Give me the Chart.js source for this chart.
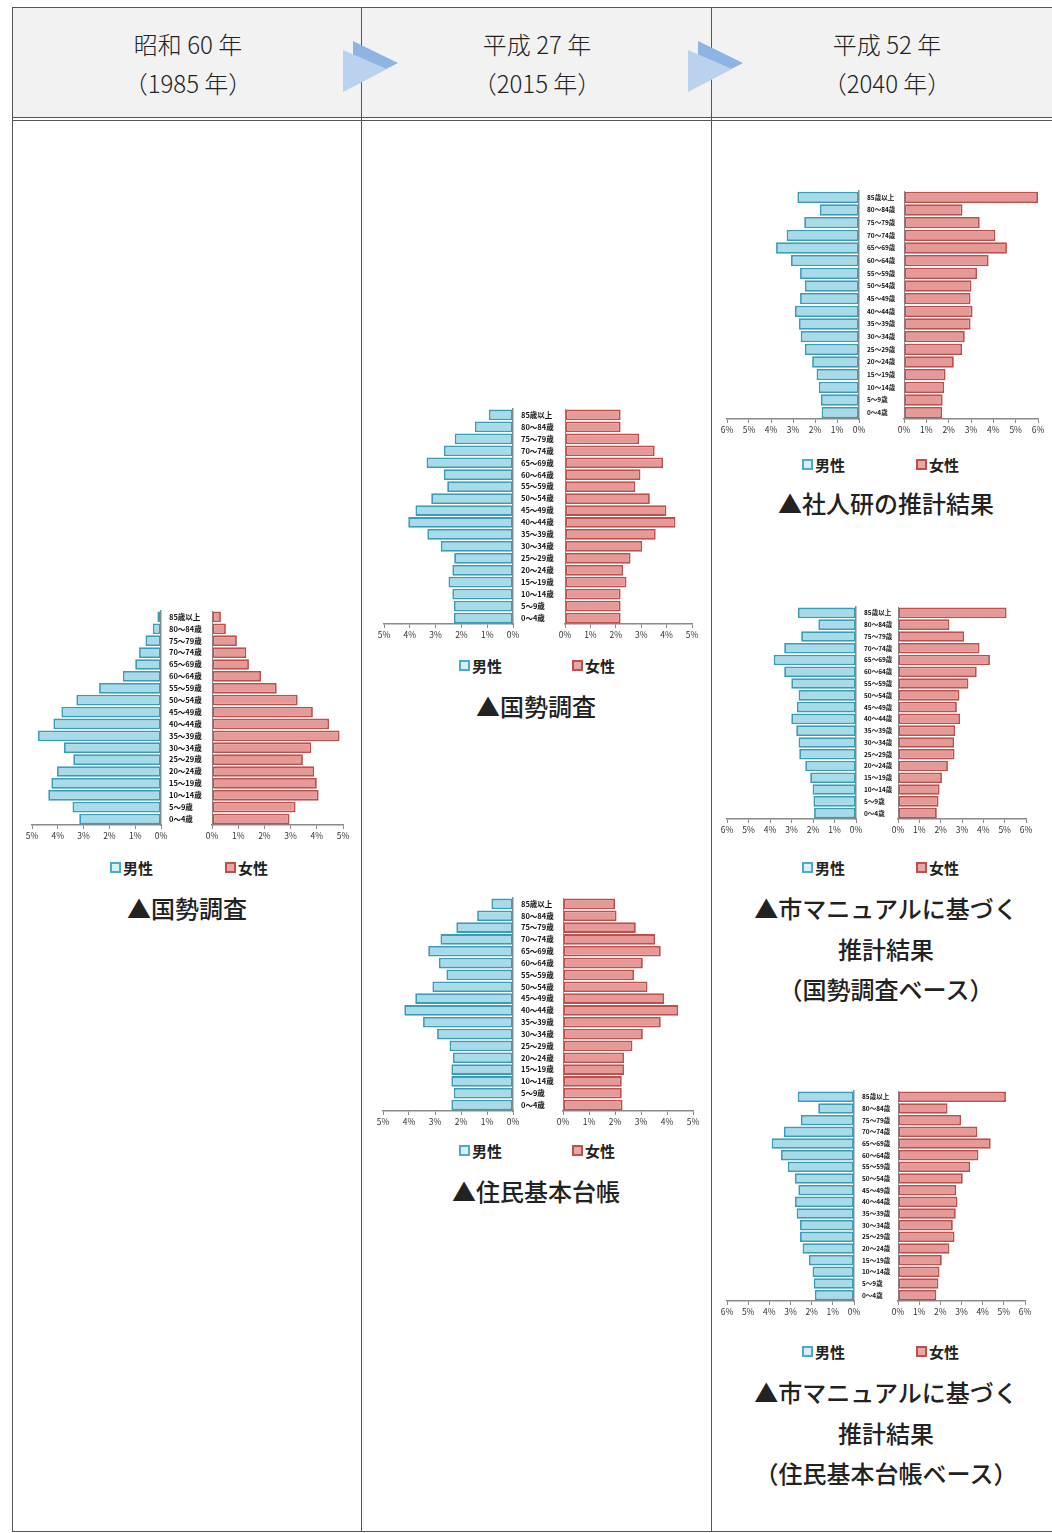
<!DOCTYPE html>
<html lang="ja">
<head>
<meta charset="UTF-8">
<title>人口ピラミッドの推移</title>
<script src="https://cdn.jsdelivr.net/npm/chart.js"></script>
<style>
  body { margin: 0; background: #fff; font-family: "Noto Sans CJK JP", sans-serif; color: #222; }
  #page { position: relative; width: 1052px; height: 1533px; overflow: hidden; }
  .line { position: absolute; background: #555; }
  .head { position: absolute; top: 8px; left: 13px; width: 1039px; height: 109px; background: #f2f2f2; }
  .headtext { position: absolute; width: 350px; text-align: center; font-size: 24px; line-height: 39px; font-weight: 300; }
  .cap { position: absolute; width: 350px; text-align: center; font-size: 24px; line-height: 40.5px; font-weight: 500; }
  .legend { position: absolute; font-size: 15px; font-weight: bold; line-height: 18px; white-space: nowrap; }
  .legend i { display: inline-block; width: 7px; height: 7px; border: 2px solid; margin-right: 2px; vertical-align: 1px; }
  canvas { position: absolute; }
  svg { position: absolute; }
</style>
</head>
<body>
<div id="page"></div>
<script>
// age groups, top row first
const ageLabels = ['85歳以上', '80～84歳', '75～79歳', '70～74歳', '65～69歳', '60～64歳',
  '55～59歳', '50～54歳', '45～49歳', '40～44歳', '35～39歳', '30～34歳',
  '25～29歳', '20～24歳', '15～19歳', '10～14歳', '5～9歳', '0～4歳']

// 昭和60年 国勢調査 (%)
const male1985 = [0.14, 0.32, 0.6, 0.85, 1.0, 1.48, 2.4, 3.28, 3.86, 4.17, 4.77, 3.76, 3.4, 4.03, 4.25, 4.37, 3.43, 3.17]
const female1985 = [0.34, 0.53, 0.95, 1.31, 1.41, 1.87, 2.47, 3.27, 3.85, 4.47, 4.87, 3.79, 3.47, 3.9, 4.0, 4.07, 3.19, 2.96]

// 平成27年 国勢調査
const male2015Census = [0.94, 1.48, 2.26, 2.68, 3.35, 2.68, 2.55, 3.17, 3.78, 4.06, 3.32, 2.8, 2.28, 2.35, 2.5, 2.35, 2.29, 2.29]
const female2015Census = [2.19, 2.19, 2.92, 3.53, 3.86, 2.97, 2.77, 3.34, 3.99, 4.35, 3.57, 3.04, 2.58, 2.29, 2.42, 2.19, 2.19, 2.19]

// 平成27年 住民基本台帳
const male2015Register = [0.83, 1.38, 2.18, 2.79, 3.26, 2.85, 2.56, 3.1, 3.76, 4.18, 3.46, 2.92, 2.44, 2.31, 2.37, 2.37, 2.28, 2.37]
const female2015Register = [2.0, 2.06, 2.8, 3.54, 3.76, 3.07, 2.73, 3.25, 3.89, 4.43, 3.76, 3.07, 2.67, 2.35, 2.35, 2.26, 2.26, 2.29]

// 平成52年 社人研の推計結果
const male2040Ipss = [2.8, 1.78, 2.49, 3.29, 3.77, 3.09, 2.68, 2.46, 2.68, 2.91, 2.73, 2.65, 2.46, 2.13, 1.93, 1.83, 1.73, 1.7]
const female2040Ipss = [6.0, 2.62, 3.39, 4.09, 4.61, 3.79, 3.27, 3.02, 2.98, 3.07, 2.98, 2.72, 2.6, 2.23, 1.86, 1.8, 1.73, 1.71]

// 平成52年 市マニュアル（国勢調査ベース）
const male2040CityCensus = [2.7, 1.75, 2.55, 3.34, 3.83, 3.34, 3.01, 2.67, 2.75, 3.01, 2.78, 2.67, 2.64, 2.36, 2.13, 2.02, 1.98, 1.95]
const female2040CityCensus = [5.09, 2.41, 3.1, 3.82, 4.31, 3.69, 3.3, 2.88, 2.76, 2.91, 2.68, 2.63, 2.65, 2.34, 2.06, 1.95, 1.9, 1.82]

// 平成52年 市マニュアル（住民基本台帳ベース）
const male2040CityRegister = [2.66, 1.69, 2.51, 3.31, 3.89, 3.45, 3.13, 2.79, 2.63, 2.79, 2.71, 2.55, 2.55, 2.43, 2.13, 1.96, 1.9, 1.85]
const female2040CityRegister = [5.1, 2.34, 2.98, 3.75, 4.38, 3.8, 3.41, 3.06, 2.75, 2.81, 2.73, 2.59, 2.67, 2.43, 2.07, 1.96, 1.91, 1.81]

const eraLabels = ['昭和 60 年', '平成 27 年', '平成 52 年']
const yearLabels = ['（1985 年）', '（2015 年）', '（2040 年）']
const seriesNames = ['男性', '女性']

const maleFill = '#a8dbe9'
const maleLine = '#3a9db7'
const femaleFill = '#e69a98'
const femaleLine = '#bf4f4c'
const axisColor = '#8a8a8a'
const font = '"Noto Sans CJK JP", sans-serif'

const page = document.getElementById('page')

function el(tag, cls, css, html) {
  const e = document.createElement(tag)
  if (cls) e.className = cls
  Object.assign(e.style, css)
  if (html != null) e.innerHTML = html
  page.appendChild(e)
  return e
}

// table frame
const colX = [12, 361, 711]
el('div', 'head', {})
el('div', 'line', { left: '12px', top: '7px', width: '1040px', height: '1px' })
el('div', 'line', { left: '12px', top: '117px', width: '1040px', height: '1px' })
el('div', 'line', { left: '12px', top: '120px', width: '1040px', height: '1px' })
el('div', 'line', { left: '12px', top: '1531px', width: '1040px', height: '1px' })
colX.forEach(x => el('div', 'line', { left: x + 'px', top: '7px', width: '1px', height: '1525px' }))

eraLabels.forEach((t, i) => {
  const left = colX[i] + 1 + 'px'
  el('div', 'headtext', { left, top: '24px' }, t)
  el('div', 'headtext', { left, top: '63px' }, yearLabels[i])
})

// arrows between the header cells
;[343, 688].forEach(x => {
  const s = el('svg', null, {})
  s.outerHTML = `<svg style="position:absolute;left:${x}px;top:40px" width="60" height="56">
    <polygon points="10,1 55,23 10,46" fill="#8db4e2"/>
    <polygon points="0,10 44,29 0,52" fill="#bad2ee"/></svg>`
})

function addCanvas(left, top, w, h) {
  const c = document.createElement('canvas')
  c.width = w
  c.height = h
  Object.assign(c.style, { left: left + 'px', top: top + 'px', width: w + 'px', height: h + 'px' })
  page.appendChild(c)
  return c
}

function xAxis(max, reverse) {
  return {
    type: 'linear', min: 0, max: max, reverse: reverse,
    ticks: { stepSize: 1, autoSkip: false, maxRotation: 0, padding: 2, color: '#333',
      font: { size: 8.5, family: font }, callback: v => v + '%' },
    grid: { display: true, drawOnChartArea: false, tickLength: 4, color: axisColor },
    border: { display: true, color: axisColor, width: 1.5 },
    afterFit: s => { s.height = 20 }
  }
}

function barSet(label, data, fill, line) {
  return { label, data, backgroundColor: fill, borderColor: line, borderWidth: 1.8,
    borderSkipped: false, categoryPercentage: 1, barPercentage: 0.9 }
}

const baseOptions = {
  indexAxis: 'y', responsive: false, animation: false, devicePixelRatio: 1,
  plugins: { legend: { display: false }, tooltip: { enabled: false } }
}

function pyramid(p) {
  const h = p.bottom - p.top + 30
  // 男性 (reversed axis)
  new Chart(addCanvas(p.maleLeft - 10, p.top - 10, p.maleZero - p.maleLeft + 20, h), {
    type: 'bar',
    data: { labels: ageLabels, datasets: [barSet(seriesNames[0], p.male, maleFill, maleLine)] },
    options: Object.assign({}, baseOptions, {
      layout: { padding: { left: 10, right: 0, top: 10, bottom: 0 } },
      scales: {
        x: xAxis(p.max, true),
        y: { position: 'right', ticks: { display: false }, grid: { display: false },
          border: { display: true, color: axisColor, width: 1.5 }, afterFit: s => { s.width = 10 } }
      }
    })
  })
  // 女性, age labels sit on its left axis
  const gap = 8
  new Chart(addCanvas(p.maleZero + gap, p.top - 10, p.femaleRight - p.maleZero - gap + 10, h), {
    type: 'bar',
    data: { labels: ageLabels, datasets: [barSet(seriesNames[1], p.female, femaleFill, femaleLine)] },
    options: Object.assign({}, baseOptions, {
      layout: { padding: { left: 0, right: 10, top: 10, bottom: 0 } },
      scales: {
        x: xAxis(p.max, false),
        y: { position: 'left',
          ticks: { autoSkip: false, padding: 0, crossAlign: 'far', color: '#111',
            font: { size: p.labelSize, family: font, weight: 'bold' } },
          grid: { display: false, drawTicks: false },
          border: { display: true, color: axisColor, width: 1 },
          afterFit: s => { s.width = p.femaleZero - p.maleZero - gap } }
      }
    })
  })
  // legend
  el('div', 'legend', { left: p.legend[0] + 'px', top: p.legendY - 9 + 'px' },
    `<i style="border-color:#4bacc6;background:#d6f0f6"></i>${seriesNames[0]}`)
  el('div', 'legend', { left: p.legend[1] + 'px', top: p.legendY - 9 + 'px' },
    `<i style="border-color:#c0504d;background:#eaa4a2"></i>${seriesNames[1]}`)
  // caption
  el('div', 'cap', { left: p.col + 'px', top: p.capY - 20 + 'px' }, p.caption)
}

const layouts = [
  { male: male1985, female: female1985, max: 5, maleLeft: 32, maleZero: 161, femaleZero: 212, femaleRight: 343,
    top: 611, bottom: 825, labelSize: 7.5, legend: [110, 225], legendY: 868, col: 12, capY: 908,
    caption: '▲国勢調査' },
  { male: male2015Census, female: female2015Census, max: 5, maleLeft: 384, maleZero: 513, femaleZero: 565, femaleRight: 692,
    top: 409, bottom: 624, labelSize: 7.5, legend: [459, 572], legendY: 666, col: 361, capY: 706,
    caption: '▲国勢調査' },
  { male: male2015Register, female: female2015Register, max: 5, maleLeft: 383, maleZero: 513, femaleZero: 563, femaleRight: 693,
    top: 898, bottom: 1111, labelSize: 7.5, legend: [459, 572], legendY: 1151, col: 361, capY: 1191,
    caption: '▲住民基本台帳' },
  { male: male2040Ipss, female: female2040Ipss, max: 6, maleLeft: 727, maleZero: 859, femaleZero: 904, femaleRight: 1038,
    top: 191, bottom: 419, labelSize: 6.5, legend: [802, 916], legendY: 465, col: 711, capY: 503,
    caption: '▲社人研の推計結果' },
  { male: male2040CityCensus, female: female2040CityCensus, max: 6, maleLeft: 727, maleZero: 856, femaleZero: 898, femaleRight: 1026,
    top: 607, bottom: 819, labelSize: 6.5, legend: [802, 916], legendY: 868, col: 711, capY: 908,
    caption: '▲市マニュアルに基づく<br>推計結果<br>（国勢調査ベース）' },
  { male: male2040CityRegister, female: female2040CityRegister, max: 6, maleLeft: 727, maleZero: 854, femaleZero: 898, femaleRight: 1025,
    top: 1091, bottom: 1301, labelSize: 6.5, legend: [802, 916], legendY: 1352, col: 711, capY: 1392,
    caption: '▲市マニュアルに基づく<br>推計結果<br>（住民基本台帳ベース）' }
]

layouts.forEach(pyramid)
</script>
</body>
</html>
